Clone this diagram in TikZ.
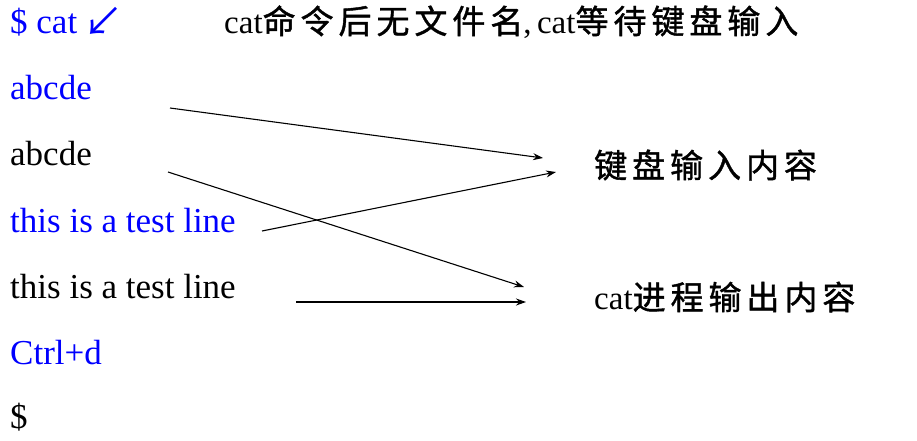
\documentclass[tikz,border=0pt]{standalone}
\usepackage{fontspec}
\setmainfont{Liberation Serif}
\newfontfamily\cjk[LetterSpace=15,FakeBold=1.2]{Noto Sans CJK SC}
\newfontfamily\cjkplain{Noto Sans CJK SC}
\usetikzlibrary{arrows.meta}
\definecolor{cmdblue}{RGB}{0,0,255}
\begin{document}
\begin{tikzpicture}[x=1pt,y=-1pt,
  term/.style={anchor=base west, inner sep=0pt, font=\fontsize{35}{40}\selectfont},
  inp/.style={term, text=cmdblue},
  note/.style={anchor=west, inner sep=0pt, font=\fontsize{33}{37}\selectfont},
  conn/.style={-{Stealth[length=10pt,width=7pt]}, line width=1.1pt}]
\useasboundingbox (0,0) rectangle (917,440);
% terminal lines
\node[inp] (l1) at (10,33) {\$ cat};
\node[anchor=center, inner sep=0pt, text=cmdblue, font=\fontsize{40}{44}\cjkplain] (l1arr) at (103,22) {↙};
\node[inp] (l2) at (10,99) {abcde};
\node[term] (l3) at (10,165) {abcde};
\node[inp] (l4) at (10,232) {this is a test line};
\node[term] (l5) at (10,298) {this is a test line};
\node[inp] (l6) at (10,364) {Ctrl+d};
\node[term] (l7) at (10,428) {\$};
% notes
\node[note] (title) at (224,22) {cat{\cjk 命令后无文件名},\,cat{\cjk 等待键盘输入}};
\node[note] (kbd) at (594,165) {\cjk 键盘输入内容};
\node[note] (out) at (594,297) {cat{\cjk 进程输出内容}};
% connector ends
\coordinate (a1s) at (170,108);
\coordinate (a1e) at (543,158);
\coordinate (a2s) at (168,172);
\coordinate (a2e) at (524,287);
\coordinate (a3s) at (262,231);
\coordinate (a3e) at (556,172);
\coordinate (a4s) at (296,302);
\coordinate (a4e) at (526,302);
\draw[conn] (a1s) -- (a1e);
\draw[conn] (a2s) -- (a2e);
\draw[conn] (a3s) -- (a3e);
\draw[conn] (a4s) -- (a4e);
\end{tikzpicture}
\end{document}
